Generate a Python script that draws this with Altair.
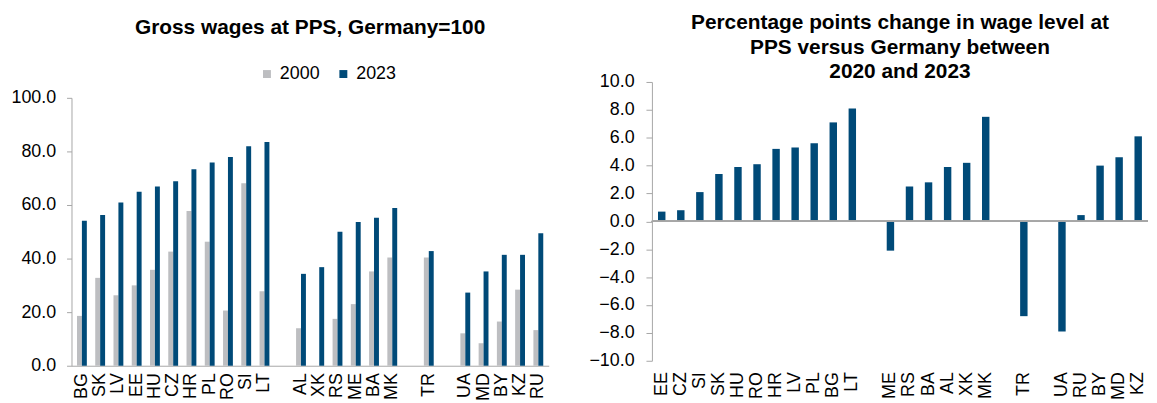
import altair as alt
import pandas as pd

# ---- Left chart data: Gross wages at PPS, Germany=100 ----
left_order = ["BG", "SK", "LV", "EE", "HU", "CZ", "HR", "PL", "RO", "SI", "LT", "_1",
              "AL", "XK", "RS", "ME", "BA", "MK", "_2", "TR", "_3",
              "UA", "MD", "BY", "KZ", "RU"]
countries_l = ["BG", "SK", "LV", "EE", "HU", "CZ", "HR", "PL", "RO", "SI", "LT",
               "AL", "XK", "RS", "ME", "BA", "MK", "TR",
               "UA", "MD", "BY", "KZ", "RU"]
wages_2000 = [18.6, 32.8, 26.3, 30.0, 35.8, 42.6, 57.8, 46.3, 20.6, 68.1, 27.8,
              14.0, None, 17.5, 23.0, 35.2, 40.4, 40.4,
              12.1, 8.4, 16.5, 28.4, 13.3]
wages_2023 = [54.1, 56.3, 60.9, 64.9, 66.9, 68.9, 73.3, 75.9, 77.9, 81.9, 83.5,
              34.3, 36.8, 50.0, 53.7, 55.2, 58.9, 42.8,
              27.3, 35.2, 41.4, 41.4, 49.5]

# ---- Right chart data: pp change 2020-2023 ----
right_order = ["EE", "CZ", "SI", "SK", "HU", "RO", "HR", "LV", "PL", "BG", "LT", "_1",
               "ME", "RS", "BA", "AL", "XK", "MK", "_2", "TR", "_3",
               "UA", "RU", "BY", "MD", "KZ"]
countries_r = ["EE", "CZ", "SI", "SK", "HU", "RO", "HR", "LV", "PL", "BG", "LT",
               "ME", "RS", "BA", "AL", "XK", "MK", "TR",
               "UA", "RU", "BY", "MD", "KZ"]
change_pp = [0.7, 0.8, 2.1, 3.4, 3.9, 4.1, 5.2, 5.3, 5.6, 7.1, 8.1,
             -2.1, 2.5, 2.8, 3.9, 4.2, 7.5, -6.8,
             -7.9, 0.45, 4.0, 4.6, 6.1]
right_ticks = [-10, -8, -6, -4, -2, 0, 2, 4, 6, 8, 10]

NAVY = "#004A78"
GRAY = "#BDBEC1"
AXIS = "#A6A6A6"
FONT = "Liberation Sans"

rows = []
for c, a, b in zip(countries_l, wages_2000, wages_2023):
    if a is not None:
        rows.append({"country": c, "year": "2000", "value": a})
    rows.append({"country": c, "year": "2023", "value": b})
df_l = pd.DataFrame(rows)
df_r = pd.DataFrame({"country": countries_r, "value": change_pp})

label_expr = "indexof(datum.label, '_') == 0 ? '' : datum.label"

LH = 286  # left panel height (shares top with right panel)

left = alt.Chart(df_l).mark_bar().encode(
    x=alt.X("country:N", sort=left_order,
            scale=alt.Scale(domain=left_order, paddingInner=0.46, paddingOuter=0.3),
            axis=alt.Axis(title=None, labelAngle=-90, labelExpr=label_expr,
                          ticks=False, domainColor=AXIS, labelPadding=7,
                          labelOverlap=False)),
    xOffset=alt.XOffset("year:N", scale=alt.Scale(domain=["2000", "2023"])),
    y=alt.Y("value:Q", scale=alt.Scale(domain=[0, 100], range=[LH, 16]),
            axis=alt.Axis(title=None, values=[0, 20, 40, 60, 80, 100], format=".1f",
                          tickSize=5, tickColor=AXIS, domainColor=AXIS, labelPadding=11,
                          labelOverlap=False)),
    color=alt.Color("year:N", scale=alt.Scale(domain=["2000", "2023"], range=[GRAY, NAVY]),
                    legend=alt.Legend(title=None, orient="none", legendX=188, legendY=-17,
                                      direction="horizontal", symbolType="square",
                                      symbolSize=64, symbolStrokeWidth=0,
                                      labelFontSize=18, labelFont=FONT, columnPadding=14,
                                      labelOffset=4)),
).properties(
    width=481, height=LH,
    title=alt.TitleParams("Gross wages at PPS, Germany=100", fontSize=21, font=FONT,
                          fontWeight="bold", anchor="middle", offset=44),
)

y_axis_r = alt.Axis(title=None, values=right_ticks, format=".1f",
                    tickSize=6, tickColor=AXIS, domainColor=AXIS, labelPadding=12,
                    labelOverlap=False)

bars_r = alt.Chart(df_r).mark_bar(color=NAVY).encode(
    x=alt.X("country:N", sort=right_order,
            scale=alt.Scale(domain=right_order, paddingInner=0.61, paddingOuter=0.32),
            axis=alt.Axis(title=None, labelAngle=-90, labelExpr=label_expr,
                          ticks=False, domain=False, labelPadding=11,
                          labelOverlap=False)),
    y=alt.Y("value:Q", scale=alt.Scale(domain=[-10, 10]), axis=y_axis_r),
)
zero = alt.Chart(df_r).mark_rule(color=AXIS, strokeWidth=1).encode(
    y=alt.YDatum(0, axis=y_axis_r)
)

right = alt.layer(bars_r, zero).properties(
    width=500, height=281,
    title=alt.TitleParams(["Percentage points change in wage level at",
                           "PPS versus Germany between", "2020 and 2023"],
                          fontSize=21, font=FONT, fontWeight="bold", anchor="middle",
                          lineHeight=24.5, offset=-9),
)

chart = alt.hconcat(left, right, spacing=40).properties(
    padding={"left": 2, "top": 3, "right": 0, "bottom": 0}
).configure_view(stroke=None).configure_axis(
    labelFont=FONT, labelFontSize=18, labelColor="#000000", grid=False
)

chart.save("out.html", embed_options={"renderer": "svg", "actions": False})
